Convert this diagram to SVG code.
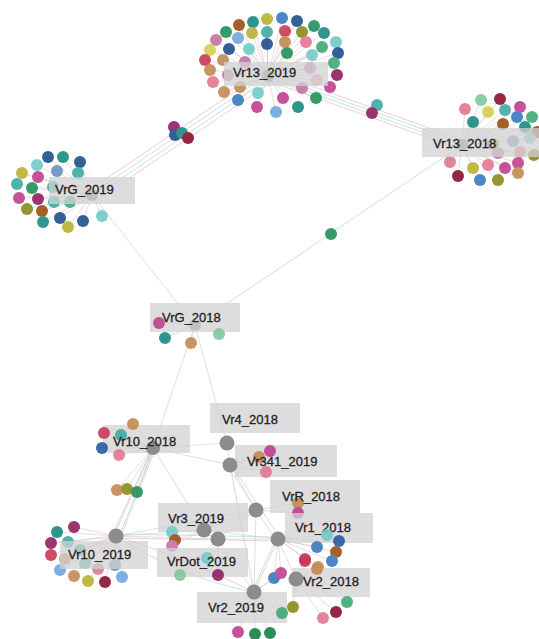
<svg xmlns="http://www.w3.org/2000/svg" width="539" height="639" viewBox="0 0 539 639">
<style>
.bg{fill:#ffffff}
.e{fill:none;stroke-width:0.9;stroke-opacity:0.75}
.eg{stroke:#cfcfcf}
.ep{stroke:#e4b4c4}
.et{stroke:#a8d8cc}
.sp{fill:none;stroke:#d6c4cc;stroke-width:0.8;stroke-opacity:0.75}
.box{fill:#d2d2d2;fill-opacity:0.75}
.lbl{font-family:"Liberation Sans",Arial,sans-serif;font-size:13px;fill:#222222;stroke:#222222;stroke-width:0.3}
.hub{fill:#8c8c8c}
circle{stroke:none}
.d circle{r:6px}
.d{opacity:0.9}
.nv{fill:#1f4e8c}.bl{fill:#3a7abf}.lb{fill:#6fa8dc}.bg2{fill:#6a90c0}.nb{fill:#2a5aa0}
.tl{fill:#40aaa4}.lt{fill:#72cbc8}.td{fill:#1a8a80}
.gr{fill:#22905a}.gm{fill:#40a878}.lg{fill:#80c8a0}.dg{fill:#17804a}
.ol{fill:#8a8a1c}.oy{fill:#bab232}.yl{fill:#d6d04c}
.br{fill:#9c5012}.tn{fill:#c48a52}
.cr{fill:#c83a56}.dc{fill:#8a1030}.pu{fill:#902060}
.mg{fill:#c0408e}.mv{fill:#c274a4}.pk{fill:#e27690}.pl{fill:#e0a0c0}
</style>
<rect class="bg" x="0" y="0" width="539" height="639"/>

<g id="connectors">
  <path class="e ep" d="M264 72L88 191"/>
  <path class="e et" d="M267 75L91 194"/>
  <path class="e et" d="M270 78L94 197"/>
  <path class="e ep" d="M273 81L97 200"/>
  <path class="e ep" d="M269 71L463 140"/>
  <path class="e et" d="M268 74L462 143"/>
  <path class="e et" d="M267 77L461 146"/>
  <path class="e ep" d="M266 80L460 149"/>
  <path class="e eg" d="M92 195L195 325"/>
  <path class="e et" d="M195 325L462 145"/>
  <path class="e eg" d="M195 325L153 448"/>
  <path class="e eg" d="M195 325L227 443"/>
  <path class="e eg" d="M153 448L227 443"/>
  <path class="e eg" d="M153 448L230 465"/>
  <path class="e eg" d="M227 443L230 465"/>
  <path class="e eg" d="M230 465L256 510"/>
  <path class="e et" d="M232 466L280 538"/>
  <path class="e eg" d="M228 467L276 540"/>
  <path class="e ep" d="M230 465L254 592"/>
  <path class="e eg" d="M153 448L117 490M153 448L127 489M153 448L137 492"/>
  <path class="e ep" d="M153 448L114 535M154 449L119 537"/>
  <path class="e et" d="M152 449L112 536M155 450L121 536"/>
  <path class="e eg" d="M153 448L204 530"/>
  <path class="e eg" d="M116 536L204 530M116 536L218 539"/>
  <path class="e et" d="M116 534L278 537"/>
  <path class="e ep" d="M116 538L278 541"/>
  <path class="e eg" d="M116 536L256 510"/>
  <path class="e eg" d="M204 530L278 539M218 539L278 539"/>
  <path class="e eg" d="M204 530L256 510M218 539L256 510"/>
  <path class="e ep" d="M278 539L254 592"/>
  <path class="e et" d="M276 539L252 592"/>
  <path class="e eg" d="M278 539L296 579"/>
  <path class="e eg" d="M256 510L254 592"/>
  <path class="e eg" d="M218 539L254 592"/>
  <path class="e et" d="M116 536Q180 578 254 592"/>
  <path class="e ep" d="M116 536Q190 560 254 592"/>
  <path class="sp" d="M268 76L239 25M268 76L253 22M268 76L267 19M268 76L282 18M268 76L297 21M268 76L314 26M268 76L226 32M268 76L238 38M268 76L252 33M268 76L267 32M268 76L285 31M268 76L302 32M268 76L324 33M268 76L216 40M268 76L229 49M268 76L249 49M268 76L267 44M268 76L285 42M268 76L306 42M268 76L322 47M268 76L336 42M268 76L210 50M268 76L205 60M268 76L223 60M268 76L245 62M268 76L287 53M268 76L312 55M268 76L338 53M268 76L334 63M268 76L210 70M268 76L228 75M268 76L310 68M268 76L337 75M268 76L213 82M268 76L240 87M268 76L317 80M268 76L302 88M268 76L330 87M268 76L224 92M268 76L258 93M268 76L283 98M268 76L316 98M268 76L238 100M268 76L257 107M268 76L276 112M268 76L298 107"/>
  <path class="sp" d="M462 145L481 100M462 145L500 99M462 145L465 109M462 145L488 112M462 145L505 110M462 145L520 107M462 145L473 122M462 145L517 117M462 145L532 117M462 145L503 124M462 145L525 127M462 145L537 132M462 145L513 141M462 145L530 138M462 145L493 144M462 145L498 153M462 145L520 152M462 145L534 155M462 145L450 162M462 145L473 168M462 145L488 165M462 145L505 168M462 145L518 163M462 145L458 176M462 145L480 180M462 145L498 180M462 145L518 173"/>
  <path class="sp" d="M92 195L48 157M92 195L63 157M92 195L80 162M92 195L37 165M92 195L57 171M92 195L78 173M92 195L22 173M92 195L38 177M92 195L17 184M92 195L32 188M92 195L53 187M92 195L19 198M92 195L38 199M92 195L54 202M92 195L70 202M92 195L27 209M92 195L42 211M92 195L43 222M92 195L60 218M92 195L83 221M92 195L68 227M92 195L102 216"/>
  <path class="sp" d="M195 325L159 323M195 325L165 338M195 325L191 343M195 325L219 334"/>
  <path class="sp" d="M153 448L133 424M153 448L104 433M153 448L121 435M153 448L102 448M153 448L119 455"/>
  <path class="sp" d="M230 465L270 451M230 465L259 457M230 465L266 472"/>
  <path class="sp" d="M256 510L298 503M256 510L298 513"/>
  <path class="sp" d="M278 539L327 535M278 539L339 541M278 539L317 547M278 539L336 552M278 539L332 561M278 539L305 559M278 539L318 567M278 539L274 578M278 539L281 573"/>
  <path class="sp" d="M204 530L172 532M204 530L175 540M204 530L172 546M218 539L207 558M218 539L218 575M218 539L180 575"/>
  <path class="sp" d="M116 536L57 532M116 536L74 527M116 536L51 543M116 536L68 542M116 536L51 555M116 536L80 550M116 536L65 559M116 536L85 563M116 536L60 570M116 536L74 576M116 536L88 581M116 536L98 569M116 536L105 582M116 536L115 565M116 536L122 577"/>
  <path class="sp" d="M296 579L305 561M296 579L317 569M296 579L347 602M296 579L336 612M296 579L323 618M296 579L293 607M254 592L282 613M254 592L238 632M254 592L255 634M254 592L270 633M254 592L274 578M254 592L281 573"/>
</g>

<g id="link-dots" class="d">
  <circle class="pu" cx="174" cy="127" r="6"/>
  <circle class="nv" cx="175" cy="135" r="6"/>
  <circle class="td" cx="182" cy="133" r="6"/>
  <circle class="dc" cx="188" cy="138" r="6"/>
  <circle class="tl" cx="377" cy="105" r="6"/>
  <circle class="pu" cx="372" cy="113" r="6"/>
  <circle class="gr" cx="331" cy="234" r="6"/>
  <circle class="tn" cx="117" cy="490" r="6"/>
  <circle class="ol" cx="127" cy="489" r="6"/>
  <circle class="gr" cx="137" cy="492" r="6"/>
</g>

<g id="node-Vr13_2019">
  <g class="d">
  <circle class="br" cx="239" cy="25" r="6"/><circle class="td" cx="253" cy="22" r="6"/><circle class="oy" cx="267" cy="19" r="6"/><circle class="bl" cx="282" cy="18" r="6"/><circle class="nv" cx="297" cy="21" r="6"/><circle class="gr" cx="314" cy="26" r="6"/>
  <circle class="gr" cx="226" cy="32" r="6"/><circle class="lb" cx="238" cy="38" r="6"/><circle class="oy" cx="252" cy="33" r="6"/><circle class="tl" cx="267" cy="32" r="6"/><circle class="cr" cx="285" cy="31" r="6"/><circle class="ol" cx="302" cy="32" r="6"/><circle class="td" cx="324" cy="33" r="6"/>
  <circle class="mv" cx="216" cy="40" r="6"/><circle class="nv" cx="229" cy="49" r="6"/><circle class="lt" cx="249" cy="49" r="6"/><circle class="nv" cx="267" cy="44" r="6"/><circle class="tn" cx="285" cy="42" r="6"/><circle class="pk" cx="306" cy="42" r="6"/><circle class="gm" cx="322" cy="47" r="6"/><circle class="lt" cx="336" cy="42" r="6"/>
  <circle class="yl" cx="210" cy="50" r="6"/><circle class="cr" cx="205" cy="60" r="6"/><circle class="tn" cx="223" cy="60" r="6"/><circle class="mv" cx="245" cy="62" r="6"/><circle class="gr" cx="287" cy="53" r="6"/><circle class="lt" cx="312" cy="55" r="6"/><circle class="nv" cx="338" cy="53" r="6"/><circle class="gm" cx="334" cy="63" r="6"/>
  <circle class="tn" cx="210" cy="70" r="6"/><circle class="mv" cx="228" cy="75" r="6"/><circle class="mv" cx="310" cy="68" r="6"/><circle class="pu" cx="337" cy="75" r="6"/>
  <circle class="pk" cx="213" cy="82" r="6"/><circle class="tn" cx="240" cy="87" r="6"/><circle class="pl" cx="317" cy="80" r="6"/><circle class="mv" cx="302" cy="88" r="6"/><circle class="mg" cx="330" cy="87" r="6"/>
  <circle class="tn" cx="224" cy="92" r="6"/><circle class="lt" cx="258" cy="93" r="6"/><circle class="mg" cx="283" cy="98" r="6"/><circle class="gr" cx="316" cy="98" r="6"/>
  <circle class="bl" cx="238" cy="100" r="6"/><circle class="mg" cx="257" cy="107" r="6"/><circle class="lb" cx="276" cy="112" r="6"/><circle class="td" cx="298" cy="107" r="6"/>
  </g>
  <circle class="hub" cx="268" cy="76" r="6"/>
  <rect class="box" x="224" y="62" width="104" height="24" fill-opacity="0.3"/>
  <text class="lbl" x="233" y="77">Vr13_2019</text>
</g>

<g id="node-Vr13_2018">
  <g class="d">
  <circle class="lg" cx="481" cy="100" r="6"/><circle class="dc" cx="500" cy="99" r="6"/><circle class="pk" cx="465" cy="109" r="6"/><circle class="yl" cx="488" cy="112" r="6"/><circle class="tl" cx="505" cy="110" r="6"/><circle class="mg" cx="520" cy="107" r="6"/>
  <circle class="td" cx="473" cy="122" r="6"/><circle class="bl" cx="517" cy="117" r="6"/><circle class="gm" cx="532" cy="117" r="6"/><circle class="br" cx="503" cy="124" r="6"/><circle class="td" cx="525" cy="127" r="6"/><circle class="br" cx="537" cy="132" r="6"/>
  <circle class="bg2" cx="513" cy="141" r="6"/><circle class="lt" cx="530" cy="138" r="6"/><circle class="ol" cx="493" cy="144" r="6"/><circle class="mv" cx="498" cy="153" r="6"/><circle class="pk" cx="520" cy="152" r="6"/><circle class="ol" cx="534" cy="155" r="6"/>
  <circle class="pk" cx="450" cy="162" r="6"/><circle class="oy" cx="473" cy="168" r="6"/><circle class="pk" cx="488" cy="165" r="6"/><circle class="mg" cx="505" cy="168" r="6"/><circle class="mg" cx="518" cy="163" r="6"/>
  <circle class="dc" cx="458" cy="176" r="6"/><circle class="bl" cx="480" cy="180" r="6"/><circle class="ol" cx="498" cy="180" r="6"/><circle class="tn" cx="518" cy="173" r="6"/>
  </g>
  <circle class="hub" cx="462" cy="145" r="6"/>
  <rect class="box" x="422" y="128" width="117" height="29"/>
  <text class="lbl" x="433" y="148">Vr13_2018</text>
</g>

<g id="node-VrG_2019">
  <g class="d">
  <circle class="nv" cx="48" cy="157" r="6"/><circle class="td" cx="63" cy="157" r="6"/><circle class="nv" cx="80" cy="162" r="6"/><circle class="lt" cx="37" cy="165" r="6"/><circle class="bg2" cx="57" cy="171" r="6"/><circle class="tl" cx="78" cy="173" r="6"/>
  <circle class="oy" cx="22" cy="173" r="6"/><circle class="mg" cx="38" cy="177" r="6"/><circle class="tl" cx="17" cy="184" r="6"/><circle class="gr" cx="32" cy="188" r="6"/><circle class="tl" cx="53" cy="187" r="6"/>
  <circle class="mg" cx="19" cy="198" r="6"/><circle class="pu" cx="38" cy="199" r="6"/><circle class="tl" cx="54" cy="202" r="6"/><circle class="gm" cx="70" cy="202" r="6"/>
  <circle class="ol" cx="27" cy="209" r="6"/><circle class="br" cx="42" cy="211" r="6"/><circle class="td" cx="43" cy="222" r="6"/><circle class="nv" cx="60" cy="218" r="6"/><circle class="nv" cx="83" cy="221" r="6"/><circle class="oy" cx="68" cy="227" r="6"/><circle class="lt" cx="102" cy="216" r="6"/>
  </g>
  <circle class="hub" cx="92" cy="195" r="6"/>
  <rect class="box" x="49" y="177" width="86" height="27"/>
  <text class="lbl" x="55" y="194">VrG_2019</text>
</g>

<g id="node-VrG_2018">
  <circle class="hub" cx="195" cy="325" r="6"/>
  <rect class="box" x="150" y="303" width="90" height="29"/>
  <g class="d">
  <circle class="mg" cx="159" cy="323" r="6"/><circle class="td" cx="165" cy="338" r="6"/><circle class="tn" cx="191" cy="343" r="6"/><circle class="lg" cx="219" cy="334" r="6"/>
  </g>
  <text class="lbl" x="162" y="322">VrG_2018</text>
</g>

<g id="node-Vr10_2018">
  <rect class="box" x="103" y="425" width="87" height="28"/>
  <g class="d">
  <circle class="tn" cx="133" cy="424" r="6"/><circle class="cr" cx="104" cy="433" r="6"/><circle class="tl" cx="121" cy="435" r="6"/><circle class="nb" cx="102" cy="448" r="6"/><circle class="pk" cx="119" cy="455" r="6"/>
  </g>
  <circle class="hub" cx="153" cy="448" r="7"/>
  <text class="lbl" x="113" y="446">Vr10_2018</text>
</g>

<g id="node-Vr4_2018">
  <rect class="box" x="210" y="403" width="90" height="30"/>
  <circle class="hub" cx="227" cy="443" r="7.5"/>
  <text class="lbl" x="222" y="424">Vr4_2018</text>
</g>

<g id="node-Vr341_2019">
  <rect class="box" x="235" y="445" width="102" height="32"/>
  <circle class="hub" cx="230" cy="465" r="7.5"/>
  <g class="d">
  <circle class="mg" cx="270" cy="451" r="6"/><circle class="tn" cx="259" cy="457" r="6"/><circle class="pk" cx="266" cy="472" r="6"/>
  </g>
  <text class="lbl" x="247" y="466">Vr341_2019</text>
</g>

<g id="node-VrR_2018">
  <rect class="box" x="270" y="480" width="90" height="33"/>
  <circle class="hub" cx="256" cy="510" r="7.5"/>
  <g class="d">
  <circle class="tn" cx="298" cy="503" r="6"/><circle class="mg" cx="298" cy="513" r="6"/>
  </g>
  <text class="lbl" x="282" y="501">VrR_2018</text>
</g>

<g id="node-Vr1_2018">
  <rect class="box" x="285" y="513" width="88" height="30"/>
  <circle class="hub" cx="278" cy="539" r="7.5"/>
  <text class="lbl" x="295" y="532">Vr1_2018</text>
  <g class="d">
  <circle class="lt" cx="327" cy="535" r="6"/><circle class="nb" cx="339" cy="541" r="6"/><circle class="bl" cx="317" cy="547" r="6"/><circle class="br" cx="336" cy="552" r="6"/><circle class="bl" cx="332" cy="561" r="6"/><circle class="cr" cx="305" cy="559" r="6"/><circle class="tn" cx="318" cy="567" r="6"/>
  </g>
</g>

<g id="node-Vr10_2019">
  <g class="d">
  <circle class="td" cx="57" cy="532" r="6"/><circle class="pu" cx="74" cy="527" r="6"/><circle class="pu" cx="51" cy="543" r="6"/><circle class="tl" cx="68" cy="542" r="6"/><circle class="cr" cx="51" cy="555" r="6"/><circle class="gm" cx="80" cy="550" r="6"/>
  <circle class="tn" cx="65" cy="559" r="6"/><circle class="tl" cx="85" cy="563" r="6"/><circle class="lb" cx="60" cy="570" r="6"/><circle class="tn" cx="74" cy="576" r="6"/><circle class="oy" cx="88" cy="581" r="6"/><circle class="pk" cx="98" cy="569" r="6"/><circle class="dc" cx="105" cy="582" r="6"/><circle class="bg2" cx="115" cy="565" r="6"/><circle class="lb" cx="122" cy="577" r="6"/>
  </g>
  <rect class="box" x="60" y="541" width="88" height="28"/>
  <circle class="hub" cx="116" cy="536" r="7.5"/>
  <text class="lbl" x="68" y="559">Vr10_2019</text>
</g>

<g id="node-Vr3_2019">
  <rect class="box" x="158" y="503" width="90" height="29"/>
  <circle class="hub" cx="204" cy="530" r="7.5"/>
  <text class="lbl" x="168" y="523">Vr3_2019</text>
  <g class="d">
  <circle class="lt" cx="172" cy="532" r="6"/><circle class="br" cx="175" cy="540" r="6"/><circle class="mv" cx="172" cy="546" r="6"/>
  </g>
</g>

<g id="node-VrDot_2019">
  <rect class="box" x="157" y="548" width="91" height="29"/>
  <circle class="hub" cx="218" cy="539" r="7.5"/>
  <g class="d">
  <circle class="lt" cx="207" cy="558" r="6"/><circle class="pu" cx="218" cy="575" r="6"/><circle class="lg" cx="180" cy="575" r="6"/>
  </g>
  <text class="lbl" x="167" y="566">VrDot_2019</text>
</g>

<g id="node-Vr2_2018">
  <rect class="box" x="292" y="568" width="78" height="29"/>
  <circle class="hub" cx="296" cy="579" r="7.5"/>
  <g class="d">
  <circle class="bl" cx="274" cy="578" r="6"/><circle class="mg" cx="281" cy="573" r="6"/><circle class="cr" cx="305" cy="561" r="6"/><circle class="tn" cx="317" cy="569" r="6"/>
  <circle class="gm" cx="347" cy="602" r="6"/><circle class="dc" cx="336" cy="612" r="6"/><circle class="pk" cx="323" cy="618" r="6"/><circle class="ol" cx="293" cy="607" r="6"/>
  </g>
  <text class="lbl" x="303" y="586">Vr2_2018</text>
</g>

<g id="node-Vr2_2019">
  <rect class="box" x="197" y="592" width="90" height="31"/>
  <circle class="hub" cx="254" cy="592" r="7.5"/>
  <g class="d">
  <circle class="gm" cx="282" cy="613" r="6"/><circle class="mg" cx="238" cy="632" r="6"/><circle class="dg" cx="255" cy="634" r="6"/><circle class="dg" cx="270" cy="633" r="6"/>
  </g>
  <text class="lbl" x="208" y="612">Vr2_2019</text>
</g>
</svg>
